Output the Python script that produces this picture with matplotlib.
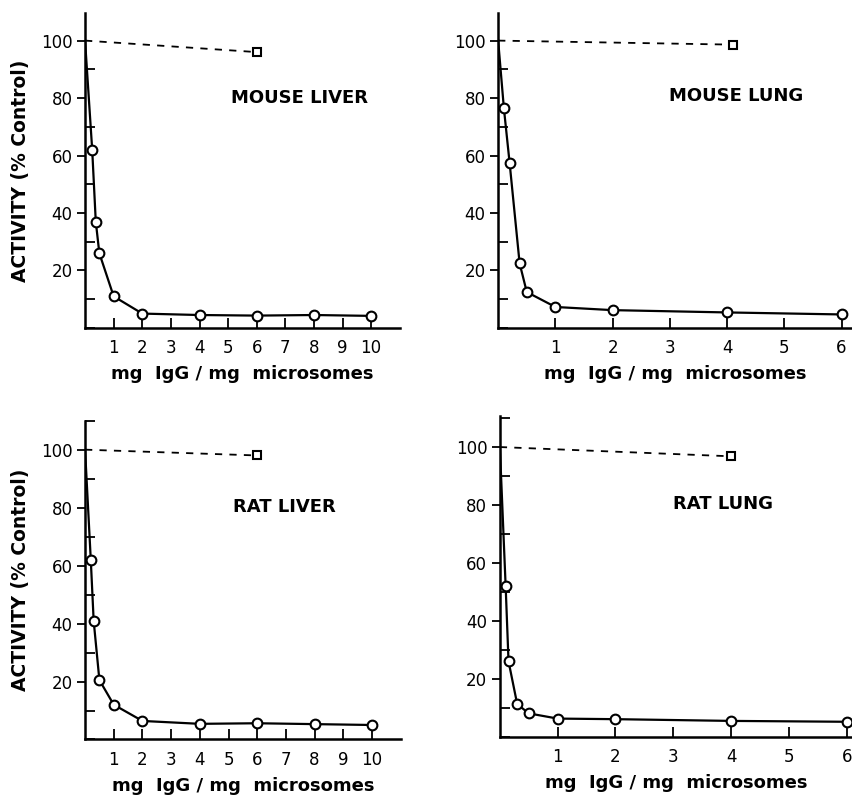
import matplotlib
matplotlib.use("Agg")
import matplotlib.pyplot as plt
from matplotlib.ticker import MultipleLocator

plt.rcParams['font.family'] = ['DejaVu Sans']

# mg IgG / mg microsomes vs activity (% control)
ml_x = [0, 0.25, 0.375, 0.5, 1, 2, 4, 6, 8, 10]
ml_y = [100, 62, 37, 26, 11, 5, 4.5, 4.3, 4.5, 4.2]
ml_ctrl_x = [0, 6]
ml_ctrl_y = [100, 96]

mlu_x = [0, 0.1, 0.2, 0.375, 0.5, 1, 2, 4, 6]
mlu_y = [100, 76.5, 57.5, 22.5, 12.5, 7.3, 6.2, 5.4, 4.7]
mlu_ctrl_x = [0, 4.1]
mlu_ctrl_y = [100, 98.6]

rl_x = [0, 0.2, 0.3, 0.5, 1, 2, 4, 6, 8, 10]
rl_y = [100, 62, 41, 20.5, 12, 6.4, 5.4, 5.6, 5.3, 5.0]
rl_ctrl_x = [0, 6]
rl_ctrl_y = [100, 98]

rlu_x = [0, 0.1, 0.15, 0.3, 0.5, 1, 2, 4, 6]
rlu_y = [100, 52, 26, 11.2, 8, 6.2, 6, 5.4, 5.1]
rlu_ctrl_x = [0, 4]
rlu_ctrl_y = [100, 96.8]

liver_ticks = [1, 2, 3, 4, 5, 6, 7, 8, 9, 10]
lung_ticks = [1, 2, 3, 4, 5, 6]
y_ticks = [20, 40, 60, 80, 100]

fig = plt.figure(figsize=(8.53, 7.96), dpi=100)

panels = [
    # rect, x, y, ctrl x, ctrl y, title, title pos, xticks, xmax, ymax, ylabel
    ([0.0997, 0.588, 0.369, 0.396], ml_x, ml_y, ml_ctrl_x, ml_ctrl_y,
     'MOUSE LIVER', (0.68, 0.73), liver_ticks, 11.0, 109.7, True),
    ([0.584, 0.588, 0.416, 0.396], mlu_x, mlu_y, mlu_ctrl_x, mlu_ctrl_y,
     'MOUSE LUNG', (0.672, 0.735), lung_ticks, 6.2, 109.7, False),
    ([0.0997, 0.071, 0.370, 0.4005], rl_x, rl_y, rl_ctrl_x, rl_ctrl_y,
     'RAT LIVER', (0.633, 0.729), liver_ticks, 11.0, 110.0, True),
    ([0.586, 0.0747, 0.414, 0.4026], rlu_x, rlu_y, rlu_ctrl_x, rlu_ctrl_y,
     'RAT LUNG', (0.632, 0.725), lung_ticks, 6.11, 110.7, False),
]

for rect, x, y, cx, cy, title, tpos, xt, xmax, ymax, ylab in panels:
    ax = fig.add_axes(rect)
    ax.plot(x, y, color='black', lw=1.6, zorder=2)
    ax.plot(x[1:], y[1:], 'o', ms=7, mfc='white', mec='black', mew=1.5, zorder=3)
    ax.plot(cx, cy, color='black', lw=1.3, ls=(0, (4, 4)), zorder=2)
    ax.plot(cx[-1], cy[-1], 's', ms=6, mfc='white', mec='black', mew=1.5, zorder=3)

    ax.set_xlim(0, xmax)
    ax.set_ylim(0, ymax)
    for s in ['top', 'right']:
        ax.spines[s].set_visible(False)
    for s in ['left', 'bottom']:
        ax.spines[s].set_linewidth(1.8)

    ax.set_xticks(xt)
    ax.set_xticklabels([str(v) for v in xt], fontsize=12)
    ax.set_yticks(y_ticks)
    ax.set_yticklabels([str(v) for v in y_ticks], fontsize=12)
    ax.yaxis.set_minor_locator(MultipleLocator(10))
    ax.tick_params(axis='x', direction='in', length=7, width=1.3, pad=8)
    ax.tick_params(axis='y', which='major', direction='out', length=6, width=1.3, pad=3)
    ax.tick_params(axis='y', which='minor', direction='in', length=7, width=1.3)

    ax.text(tpos[0], tpos[1], title, transform=ax.transAxes, fontsize=13,
            fontweight='bold', ha='center', va='center')
    ax.set_xlabel('mg  IgG / mg  microsomes', fontsize=13, fontweight='bold',
                  labelpad=6)
    if ylab:
        ax.set_ylabel('ACTIVITY (% Control)', fontsize=13.5, fontweight='bold',
                      labelpad=8)

fig.savefig('out.png', dpi=100)
